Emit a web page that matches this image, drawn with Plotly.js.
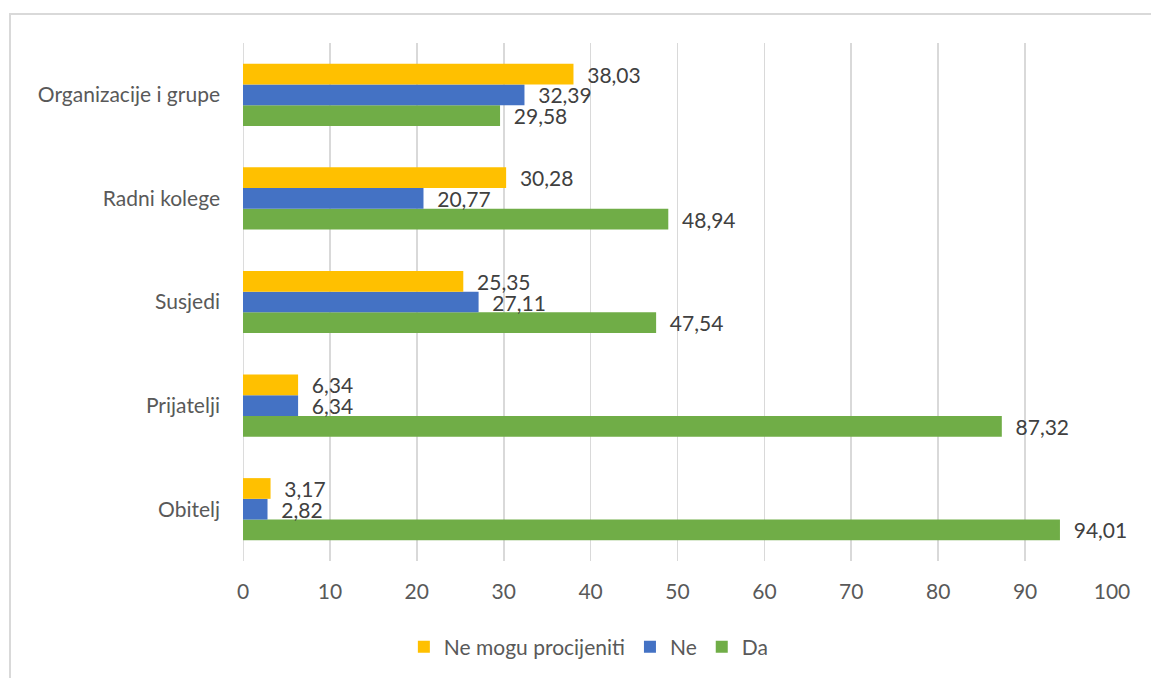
<!DOCTYPE html>
<html>
<head>
<meta charset="utf-8">
<script src="https://cdn.plot.ly/plotly-3.0.1.min.js"></script>
<style>
  html, body { margin: 0; padding: 0; background: #fff; overflow: hidden; }
  #wrap { position: relative; width: 1151px; height: 678px; }
  #frame { position: absolute; left: 9px; top: 13px; width: 1200px; height: 700px;
           border-left: 2px solid #d9d9d9; border-top: 2px solid #d9d9d9; box-sizing: border-box; pointer-events: none; }
  #chart { position: absolute; left: 0; top: 0; width: 1151px; height: 678px; }
</style>
</head>
<body>
<div id="wrap">
  <div id="chart"></div>
  <div id="frame"></div>
</div>
<script>
// categories listed bottom to top
const categories = ['Obitelj', 'Prijatelji', 'Susjedi', 'Radni kolege', 'Organizacije i grupe'];
const seriesNames = ['Da', 'Ne', 'Ne mogu procijeniti'];
const daValues = [94.01, 87.32, 47.54, 48.94, 29.58];
const neValues = [2.82, 6.34, 27.11, 20.77, 32.39];
const neMoguValues = [3.17, 6.34, 25.35, 30.28, 38.03];
const xTicks = [0, 10, 20, 30, 40, 50, 60, 70, 80, 90, 100];
const colors = ['#70AD47', '#4472C4', '#FFC000'];

const FONT = 'Lato, "Open Sans", sans-serif';
const FS = 21;
const valuesList = [daValues, neValues, neMoguValues];

const traces = valuesList.map((vals, i) => ({
  type: 'bar',
  orientation: 'h',
  name: seriesNames[i],
  y: categories,
  x: vals,
  marker: { color: colors[i] },
  texttemplate: '\u00a0\u00a0%{x:.2f}',
  textposition: 'outside',
  constraintext: 'none',
  cliponaxis: false,
  textfont: { family: FONT, size: FS, color: '#404040' },
  hoverinfo: 'skip'
}));

const layout = {
  width: 1151,
  height: 678,
  separators: ',.',
  margin: { l: 243, r: 39, t: 43, b: 116 },
  paper_bgcolor: '#ffffff',
  plot_bgcolor: '#ffffff',
  barmode: 'group',
  bargap: 0.4,
  bargroupgap: 0,
  uniformtext: { mode: false },
  font: { family: FONT, size: FS, color: '#595959' },
  xaxis: {
    range: [0, 100],
    tickvals: xTicks,
    ticktext: xTicks.map(String),
    showgrid: true,
    gridcolor: '#d9d9d9',
    gridwidth: 1.8,
    zeroline: false,
    showline: false,
    ticks: '',
    ticklabelstandoff: 16,
    tickfont: { family: FONT, size: FS, color: '#595959' },
    fixedrange: true
  },
  yaxis: {
    showgrid: false,
    zeroline: false,
    showline: false,
    ticks: '',
    ticklabelstandoff: 22,
    tickfont: { family: FONT, size: FS, color: '#595959' },
    fixedrange: true
  },
  showlegend: true,
  legend: {
    orientation: 'h',
    traceorder: 'reversed',
    x: 0.398,
    xanchor: 'center',
    y: -0.164,
    yanchor: 'middle',
    font: { family: FONT, size: FS, color: '#595959' },
    itemwidth: 30
  },
  shapes: [{
    type: 'line', xref: 'x', yref: 'paper', x0: 0, x1: 0, y0: 0, y1: 1,
    line: { color: '#d9d9d9', width: 1.8 }, layer: 'below'
  }]
};

Plotly.newPlot('chart', traces, layout, { staticPlot: true, displayModeBar: false });
</script>
</body>
</html>
